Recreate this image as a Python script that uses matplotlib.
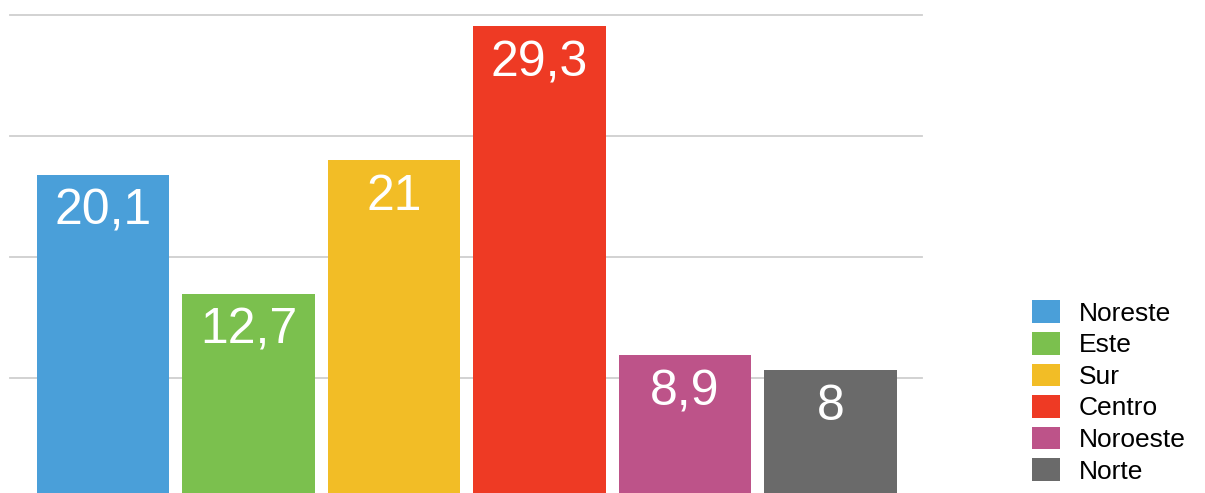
import matplotlib
matplotlib.use("Agg")
import matplotlib.pyplot as plt

categories = ["Noreste", "Este", "Sur", "Centro", "Noroeste", "Norte"]
values = [20.1, 12.7, 21.0, 29.3, 8.9, 8.0]
labels = ["20,1", "12,7", "21", "29,3", "8,9", "8"]
colors = ["#4A9FD9", "#7BC04E", "#F2BD26", "#EE3A24", "#BD5389", "#6A6A6A"]
grid_values = [7.5, 15, 22.5, 30]

plt.rcParams["font.family"] = ["Liberation Sans", "DejaVu Sans"]

W, H = 1205, 493
fig = plt.figure(figsize=(W / 100, H / 100), dpi=100)
ax = fig.add_axes([10 / W, -6 / H, 912 / W, 484 / H])

x = list(range(len(categories)))
bars = ax.bar(x, values, width=0.913, color=colors, label=categories, zorder=2)

for gv in grid_values:
    ax.axhline(gv, color="#CFCFCF", lw=1.3, zorder=1, clip_on=False)

for b, lab in zip(bars, labels):
    ax.annotate(lab, (b.get_x() + b.get_width() / 2, b.get_height()),
                xytext=(0, -10), textcoords="offset points",
                ha="center", va="top", color="white", fontsize=36, zorder=3)

ax.set_xlim(-0.64, 5.63)
ax.set_ylim(0, 30)
ax.axis("off")

leg = fig.legend(handles=bars, labels=categories, loc="center left",
                 bbox_to_anchor=(1032 / W, 1 - 392 / H), frameon=False,
                 fontsize=19, handlelength=1.06, handleheight=0.95,
                 handletextpad=0.72, labelspacing=0.23, borderpad=0,
                 borderaxespad=0)

fig.savefig("out.png", dpi=100)
